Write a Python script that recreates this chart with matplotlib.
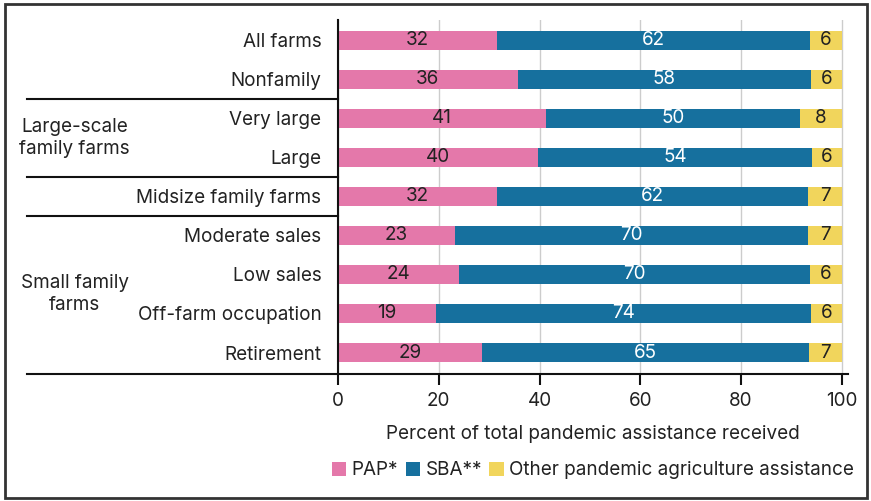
import matplotlib.pyplot as plt
from matplotlib.patches import Rectangle
import matplotlib.transforms as mtransforms

plt.rcParams['font.family'] = ['Inter', 'DejaVu Sans']

# farm types, top to bottom
categories = ["All farms", "Nonfamily", "Very large", "Large",
              "Midsize family farms", "Moderate sales", "Low sales",
              "Off-farm occupation", "Retirement"]
# shares of total pandemic assistance (percent)
pap = [31.6, 35.7, 41.3, 39.7, 31.6, 23.2, 24.0, 19.4, 28.6]
sba = [62.0, 58.1, 50.4, 54.3, 61.7, 70.1, 69.6, 74.4, 64.8]
other = [6.4, 6.2, 8.3, 6.0, 6.7, 6.7, 6.4, 6.2, 6.6]

series_names = ["PAP*", "SBA**", "Other pandemic agriculture assistance"]
colors = ["#E478AA", "#16709E", "#F1D55C"]
text_colors = ["#222222", "white", "#222222"]

groups = ["Large-scale\nfamily farms", "Small family\nfarms"]
group_centers = [2.5, 6.5]
separators = [1.5, 3.5, 4.5]

FS = 13.6

fig = plt.figure(figsize=(8.71, 5.01), dpi=100)
ax = fig.add_axes([0.388, 0.2535, 0.5855, 0.7066])

y = list(range(len(categories)))
left = [0.0] * len(categories)
for vals, name, c, tc in zip([pap, sba, other], series_names, colors, text_colors):
    bars = ax.barh(y, vals, left=left, height=0.48, color=c, label=name, zorder=2)
    ax.bar_label(bars, fmt='%.0f', label_type='center', color=tc, fontsize=FS)
    left = [l + v for l, v in zip(left, vals)]

ax.set_ylim(8.55, -0.52)
ax.set_xlim(0, 101.2)
ax.set_xticks([0, 20, 40, 60, 80, 100])
ax.set_yticks(y)
ax.set_yticklabels(categories, fontsize=FS, color="#222222")
ax.tick_params(axis='y', length=0, pad=12)
ax.tick_params(axis='x', length=8, width=1.5, color="#111111", labelsize=FS,
               labelcolor="#222222", pad=5)
ax.xaxis.grid(True, color="#cccccc", linewidth=1, zorder=0)
ax.set_axisbelow(True)
for s in ["top", "right"]:
    ax.spines[s].set_visible(False)
for s in ["left", "bottom"]:
    ax.spines[s].set_linewidth(1.5)
    ax.spines[s].set_color("#111111")

ax.set_xlabel("Percent of total pandemic assistance received", fontsize=FS,
              color="#222222", labelpad=11)

# group separators and labels to the left of the axis
trans = mtransforms.blended_transform_factory(ax.transAxes, ax.transData)
for s in separators + [8.55]:
    ax.plot([-0.61, 0], [s, s], transform=trans, color="#111111", lw=1.5,
            clip_on=False)
for g, yc in zip(groups, group_centers):
    ax.text(-0.516, yc, g, transform=trans, ha='center', va='center',
            fontsize=FS, color="#222222", linespacing=1.3)

ax.legend(loc='center', bbox_to_anchor=(0.5, -0.272), ncol=3, frameon=False,
          fontsize=FS, handlelength=0.75, handleheight=0.75, handletextpad=0.3,
          columnspacing=0.4, labelcolor="#222222")

fig.patches.append(Rectangle((5 / 871, 3 / 501), 862 / 871, 494 / 501,
                             transform=fig.transFigure, fill=False,
                             edgecolor="#333333", linewidth=2))

fig.savefig("out.png", dpi=100)
